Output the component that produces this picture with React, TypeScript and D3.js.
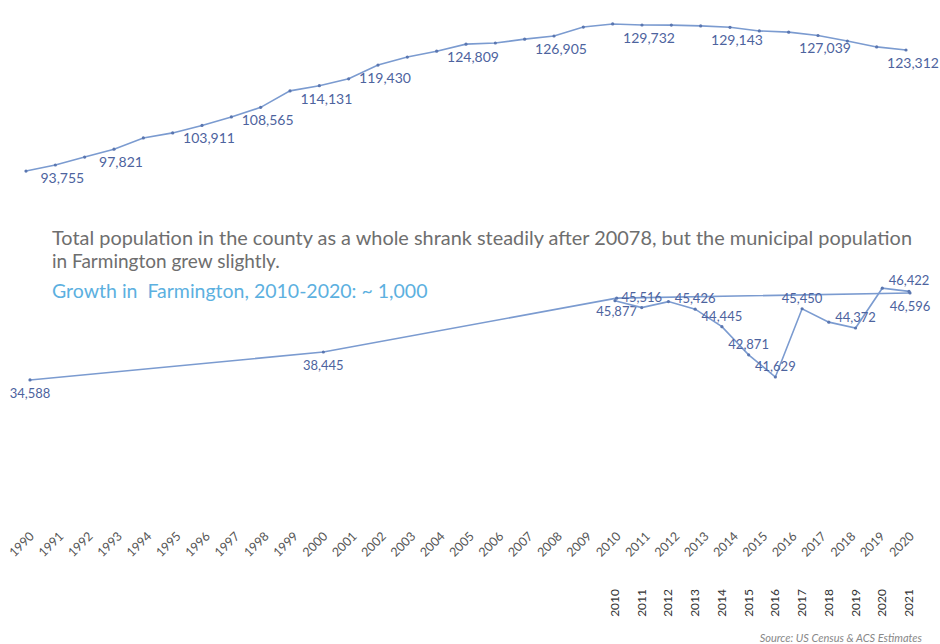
import React from "react";
import * as d3 from "d3";

// County population 1990-2020 (annual)
const countyYears = d3.range(1990, 2021);
const countyValues = [
  92200, 93755, 95800, 97821, 100700, 102000, 103911, 106100, 108565, 112800,
  114131, 115900, 119430, 121500, 123000, 124809, 125100, 126100, 126905, 129200,
  130000, 129732, 129700, 129500, 129143, 128200, 127900, 127039, 125600, 124100,
  123312,
];
const countyLabelYears = [1991, 1993, 1996, 1998, 2000, 2002, 2005, 2008, 2011, 2014, 2017, 2020];

// Farmington decennial census
const censusYears = [1990, 2000, 2010, 2020];
const censusValues = [34588, 38445, 45877, 46596];

// Farmington ACS estimates 2010-2021
const acsYears = d3.range(2010, 2022);
const acsValues = [45900, 45516, 45850, 45426, 44445, 42871, 41629, 45450, 44700, 44372, 46600, 46422];
const acsLabelYears = [2011, 2013, 2014, 2015, 2016, 2017, 2019, 2021];

// Tick labels
const axisYears = d3.range(1990, 2021).map(String);
const acsAxisYears = d3.range(2010, 2022).map(String);

const subtitleLines = [
  "Total population in the county as a whole shrank steadily after 20078, but the municipal population",
  "in Farmington grew slightly.",
];
const growthText = "Growth in  Farmington, 2010-2020: ~ 1,000";
const sourceText = "Source: US Census & ACS Estimates";

const W = 940;
const H = 644;
const FONT = "Lato, 'Open Sans', sans-serif";
const LINE = "#7b9bd0";
const DOT = "#5a76b0";
const LABEL = "#4d639e";

export default function App() {
  const xTop = d3.scaleLinear().domain([1990, 2020]).range([26, 906]);
  const yTop = d3.scaleLinear().domain([90000, 135000]).range([179.6, 4.5]);
  const xBot = d3.scaleLinear().domain([1990, 2020]).range([30, 910]);
  const yCensus = d3.scaleLinear().domain([30000, 50000]).range([413.2, 268.3]);
  const xAcs = d3.scaleLinear().domain([2010, 2021]).range([615, 909]);
  const yAcs = d3.scaleLinear().domain([40000, 48000]).range([406.1, 263.2]);

  const county = countyYears.map((y, i) => ({ year: y, v: countyValues[i] }));
  const census = censusYears.map((y, i) => ({ year: y, v: censusValues[i] }));
  const acs = acsYears.map((y, i) => ({ year: y, v: acsValues[i] }));

  const lineTop = d3.line<any>().x((d) => xTop(d.year)).y((d) => yTop(d.v));
  const lineCensus = d3.line<any>().x((d) => xBot(d.year)).y((d) => yCensus(d.v));
  const lineAcs = d3.line<any>().x((d) => xAcs(d.year)).y((d) => yAcs(d.v));
  const fmt = d3.format(",");

  return (
    <svg
      width={W}
      height={H}
      style={{ position: "absolute", left: 0, top: 0, background: "#fff" }}
      fontFamily={FONT}
    >
      {/* County line */}
      <path d={lineTop(county) || ""} fill="none" stroke={LINE} strokeWidth={1.6} />
      {county.map((d) => (
        <circle key={"c" + d.year} cx={xTop(d.year)} cy={yTop(d.v)} r={1.6} fill={DOT} />
      ))}
      {county
        .filter((d) => countyLabelYears.includes(d.year))
        .map((d) => (
          <text
            key={"cl" + d.year}
            x={xTop(d.year) + 7}
            y={yTop(d.v) + 18}
            textAnchor="middle"
            fontSize={14}
            fill={LABEL}
          >
            {fmt(d.v)}
          </text>
        ))}

      {/* Subtitle */}
      <text x={52} y={245} fontSize={19} fill="#6e6e6e" textLength={860} lengthAdjust="spacingAndGlyphs">
        {subtitleLines[0]}
      </text>
      <text x={52} y={268} fontSize={19} fill="#6e6e6e">
        {subtitleLines[1]}
      </text>
      <text x={52} y={298} fontSize={19.5} fill="#5cb0e0" style={{ whiteSpace: "pre" }}>
        {growthText}
      </text>

      {/* Census line */}
      <path d={lineCensus(census) || ""} fill="none" stroke={LINE} strokeWidth={1.6} />
      {census.map((d) => (
        <circle key={"ce" + d.year} cx={xBot(d.year)} cy={yCensus(d.v)} r={1.6} fill={DOT} />
      ))}
      {census.map((d) => (
        <text
          key={"cel" + d.year}
          x={xBot(d.year)}
          y={yCensus(d.v) + 18}
          textAnchor="middle"
          fontSize={13}
          fill={LABEL}
        >
          {fmt(d.v)}
        </text>
      ))}

      {/* ACS line */}
      <path d={lineAcs(acs) || ""} fill="none" stroke={LINE} strokeWidth={1.6} />
      {acs.map((d) => (
        <circle key={"a" + d.year} cx={xAcs(d.year)} cy={yAcs(d.v)} r={1.6} fill={DOT} />
      ))}
      {acs
        .filter((d) => acsLabelYears.includes(d.year))
        .map((d) => (
          <text
            key={"al" + d.year}
            x={xAcs(d.year)}
            y={yAcs(d.v) - 6}
            textAnchor="middle"
            fontSize={13}
            fill={LABEL}
          >
            {fmt(d.v)}
          </text>
        ))}

      {/* Rotated year axis */}
      {axisYears.map((t) => (
        <text
          key={"ax" + t}
          transform={`translate(${xBot(+t) + 5},${537}) rotate(-45)`}
          textAnchor="end"
          fontSize={12.5}
          fill="#555"
        >
          {t}
        </text>
      ))}

      {/* ACS vertical year axis */}
      {acsAxisYears.map((t) => (
        <text
          key={"ay" + t}
          transform={`translate(${xAcs(+t) + 4},${589}) rotate(-90)`}
          textAnchor="end"
          fontSize={12}
          fill="#333"
        >
          {t}
        </text>
      ))}

      <text x={922} y={642} textAnchor="end" fontSize={11} fontStyle="italic" fill="#888">
        {sourceText}
      </text>
    </svg>
  );
}
